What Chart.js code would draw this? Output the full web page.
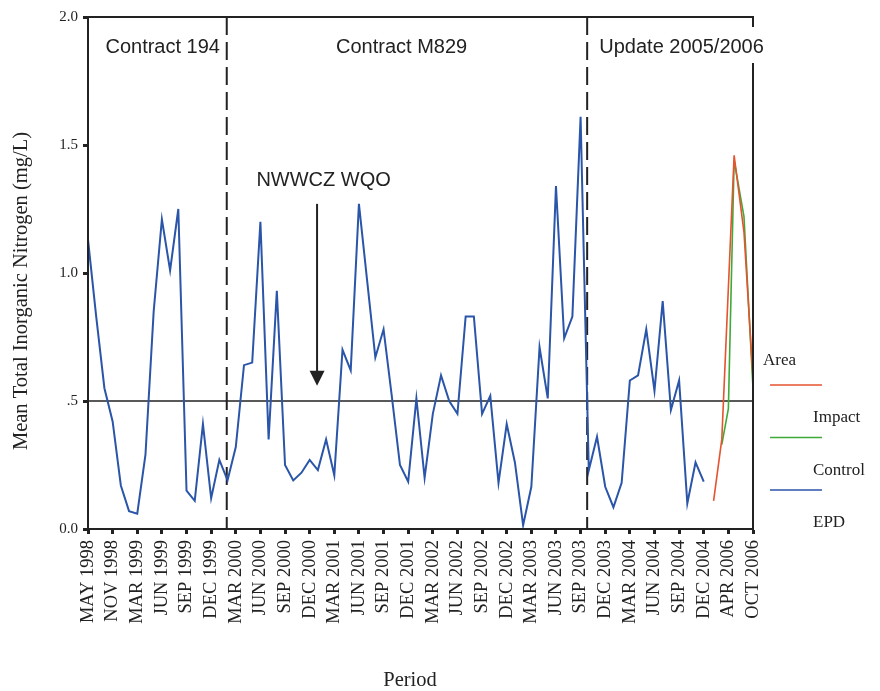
<!DOCTYPE html>
<html>
<head>
<meta charset="utf-8">
<script src="https://cdn.jsdelivr.net/npm/chart.js@4.4.0/dist/chart.umd.min.js"></script>
<style>
  html, body { margin: 0; padding: 0; background: #fff; }
  #wrap { width: 880px; height: 691px; }
</style>
</head>
<body>
<div id="wrap"><canvas id="myChart"></canvas></div>
<script>
// tick labels along the period axis, one every 3 sample positions
const periodLabels = [
  "MAY 1998", "NOV 1998", "MAR 1999", "JUN 1999", "SEP 1999", "DEC 1999",
  "MAR 2000", "JUN 2000", "SEP 2000", "DEC 2000", "MAR 2001", "JUN 2001",
  "SEP 2001", "DEC 2001", "MAR 2002", "JUN 2002", "SEP 2002", "DEC 2002",
  "MAR 2003", "JUN 2003", "SEP 2003", "DEC 2003", "MAR 2004", "JUN 2004",
  "SEP 2004", "DEC 2004", "APR 2006", "OCT 2006"
];

// EPD monitoring, one value per sample position 0..75
const epdValues = [
  1.13, 0.83, 0.55, 0.42, 0.17, 0.07, 0.06, 0.29, 0.85, 1.21,
  1.01, 1.25, 0.15, 0.11, 0.41, 0.12, 0.27, 0.19, 0.32, 0.64,
  0.65, 1.20, 0.35, 0.93, 0.25, 0.19, 0.22, 0.27, 0.23, 0.35,
  0.21, 0.70, 0.62, 1.27, 0.97, 0.67, 0.78, 0.52, 0.25, 0.185,
  0.51, 0.20, 0.45, 0.60, 0.50, 0.45, 0.83, 0.83, 0.45, 0.52,
  0.18, 0.41, 0.26, 0.015, 0.165, 0.71, 0.51, 1.34, 0.745, 0.83,
  1.61, 0.23, 0.36, 0.165, 0.085, 0.18, 0.58, 0.60, 0.78, 0.54,
  0.89, 0.465, 0.58, 0.10, 0.26, 0.185
];

// 2006 update survey
const impactPos = [76.2, 77.2, 78.7, 79.9, 81];
const impactValues = [0.11, 0.35, 1.46, 1.16, 0.59];
const controlPos = [77.2, 78.0, 78.7, 79.9, 81];
const controlValues = [0.33, 0.47, 1.44, 1.22, 0.55];

const yTickValues = [0, 0.5, 1, 1.5, 2];
const yTickLabels = ["0.0", ".5", "1.0", "1.5", "2.0"];

const wqoLevel = 0.5;
const phaseBreaks = [16.9, 60.8];
const phases = [
  { text: "Contract 194", at: 9.1 },
  { text: "Contract M829", at: 38.2 },
  { text: "Update 2005/2006", at: 72.3 }
];
const wqoNote = { text: "NWWCZ WQO", at: 28.7, arrowAt: 27.9, from: 1.27, to: 0.56 };
const yTitle = "Mean Total Inorganic Nitrogen (mg/L)";
const xTitle = "Period";

const epdPoints = epdValues.map((v, i) => ({ x: i, y: v }));
const impactPoints = impactValues.map((v, i) => ({ x: impactPos[i], y: v }));
const controlPoints = controlValues.map((v, i) => ({ x: controlPos[i], y: v }));

const INK = "#222";
const SANS = "'Liberation Sans', Arial, sans-serif";
const SERIF = "'Liberation Serif', 'Times New Roman', serif";

const overlay = {
  id: "overlay",
  beforeDatasetsDraw(chart) {
    const { ctx, chartArea: a, scales: { x, y } } = chart;
    ctx.save();
    ctx.strokeStyle = INK;
    ctx.lineWidth = 1.6;
    const yw = y.getPixelForValue(wqoLevel);
    ctx.beginPath();
    ctx.moveTo(a.left, yw);
    ctx.lineTo(a.right, yw);
    ctx.stroke();

    ctx.lineWidth = 2;
    ctx.setLineDash([18, 7]);
    phaseBreaks.forEach(v => {
      const px = x.getPixelForValue(v);
      ctx.beginPath();
      ctx.moveTo(px, a.top);
      ctx.lineTo(px, a.bottom);
      ctx.stroke();
    });
    ctx.restore();
  },
  afterDatasetsDraw(chart) {
    const { ctx, chartArea: a, scales: { x, y } } = chart;
    ctx.save();
    // frame
    ctx.strokeStyle = INK;
    ctx.lineWidth = 2;
    ctx.strokeRect(a.left, a.top, a.right - a.left, a.bottom - a.top);

    // phase titles
    ctx.font = "20px " + SANS;
    ctx.textAlign = "center";
    ctx.textBaseline = "alphabetic";
    phases.forEach(p => {
      const px = x.getPixelForValue(p.at);
      const w = ctx.measureText(p.text).width;
      ctx.fillStyle = "#fff";
      ctx.fillRect(px - w / 2 - 2, a.top + 10, w + 4, 36);
      ctx.fillStyle = INK;
      ctx.fillText(p.text, px, a.top + 36);
    });

    // WQO note and arrow
    ctx.fillText(wqoNote.text, x.getPixelForValue(wqoNote.at), y.getPixelForValue(wqoNote.from) - 18);
    const ax = x.getPixelForValue(wqoNote.arrowAt);
    const ay0 = y.getPixelForValue(wqoNote.from);
    const ay1 = y.getPixelForValue(wqoNote.to);
    ctx.lineWidth = 2;
    ctx.beginPath();
    ctx.moveTo(ax, ay0);
    ctx.lineTo(ax, ay1 - 14);
    ctx.stroke();
    ctx.beginPath();
    ctx.moveTo(ax - 7.5, ay1 - 15);
    ctx.lineTo(ax + 7.5, ay1 - 15);
    ctx.lineTo(ax, ay1);
    ctx.closePath();
    ctx.fill();

    // axis titles
    ctx.font = "20.5px " + SERIF;
    ctx.textBaseline = "middle";
    ctx.fillText(xTitle, 410, 681);
    ctx.save();
    ctx.translate(22, 291);
    ctx.rotate(-Math.PI / 2);
    ctx.fillText(yTitle, 0, 0);
    ctx.restore();

    // legend
    ctx.textAlign = "left";
    ctx.textBaseline = "alphabetic";
    ctx.font = "17px " + SERIF;
    ctx.fillText("Area", a.right + 10, 365);
    chart.data.datasets.forEach((ds, i) => {
      const ly = 385 + i * 52.5;
      ctx.strokeStyle = ds.borderColor;
      ctx.lineWidth = 1.6;
      ctx.beginPath();
      ctx.moveTo(a.right + 17, ly);
      ctx.lineTo(a.right + 69, ly);
      ctx.stroke();
      ctx.fillStyle = INK;
      ctx.fillText(ds.label, a.right + 60, ly + 37);
    });
    ctx.restore();
  }
};

new Chart(document.getElementById("myChart"), {
  type: "line",
  data: {
    datasets: [
      { label: "Impact", data: impactPoints, borderColor: "#e5532f", borderWidth: 1.6, pointRadius: 0, order: 1 },
      { label: "Control", data: controlPoints, borderColor: "#3faa3a", borderWidth: 1.6, pointRadius: 0, order: 2 },
      { label: "EPD", data: epdPoints, borderColor: "#2a55a8", borderWidth: 2, pointRadius: 0, order: 3 }
    ]
  },
  options: {
    responsive: true,
    maintainAspectRatio: false,
    animation: false,
    layout: { padding: { top: 17, right: 127, left: 0, bottom: 0 } },
    plugins: { legend: { display: false }, tooltip: { enabled: false } },
    scales: {
      x: {
        type: "linear",
        min: 0,
        max: 81,
        afterFit(s) { s.height = 162; },
        border: { display: true, color: INK, width: 2 },
        grid: { drawOnChartArea: false, drawTicks: true, tickLength: 5, tickWidth: 3, tickColor: INK },
        ticks: {
          stepSize: 3,
          autoSkip: false,
          minRotation: 90,
          maxRotation: 90,
          padding: 6,
          color: INK,
          font: { family: SERIF, size: 18.5 },
          callback: v => periodLabels[Math.round(v / 3)]
        }
      },
      y: {
        min: 0,
        max: 2,
        afterFit(s) { s.width = 88; },
        border: { display: true, color: INK, width: 2 },
        grid: { drawOnChartArea: false, drawTicks: true, tickLength: 5, tickWidth: 3, tickColor: INK },
        ticks: {
          stepSize: 0.5,
          padding: 5,
          color: INK,
          font: { family: SERIF, size: 15 },
          callback: v => yTickLabels[yTickValues.indexOf(v)]
        }
      }
    }
  },
  plugins: [overlay]
});
</script>
</body>
</html>
